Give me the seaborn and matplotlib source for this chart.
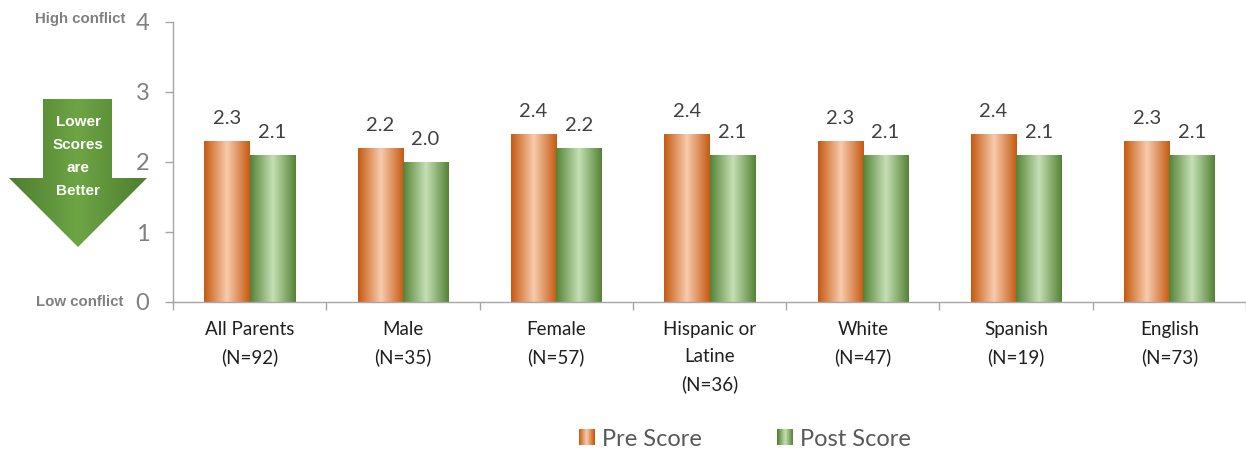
import numpy as np
import pandas as pd
import matplotlib
matplotlib.use("Agg")
import matplotlib.pyplot as plt
import seaborn as sns
from matplotlib.patches import Polygon, Rectangle, Patch
from matplotlib.legend_handler import HandlerBase
from matplotlib.colors import to_rgb

# ---- data ----
categories = ["All Parents\n(N=92)", "Male\n(N=35)", "Female\n(N=57)",
              "Hispanic or\nLatine\n(N=36)", "White\n(N=47)",
              "Spanish\n(N=19)", "English\n(N=73)"]
pre_scores = [2.3, 2.2, 2.4, 2.4, 2.3, 2.4, 2.3]
post_scores = [2.1, 2.0, 2.2, 2.1, 2.1, 2.1, 2.1]
series_names = ["Pre Score", "Post Score"]
y_ticks = [0, 1, 2, 3, 4]

# ---- styling ----
ORANGE_EDGE, ORANGE_MID = "#C55A11", "#F8CBAD"
GREEN_EDGE, GREEN_MID = "#548235", "#C5E0B4"
ARROW_EDGE, ARROW_MID = "#4E7D2F", "#6DA544"
AXIS_GREY = "#A6A6A6"
FONT = "Lato"
BOLD_FONT = ["Liberation Sans", "DejaVu Sans"]

sns.set_style("white")
plt.rcParams["font.family"] = [FONT, "DejaVu Sans"]


def gradient_row(edge, mid, n=256):
    """Horizontal gradient: dark at both edges, light in the middle."""
    t = np.linspace(0, 1, n)
    w = 1 - np.abs(2 * t - 1)
    e, m = np.array(to_rgb(edge)), np.array(to_rgb(mid))
    rgb = e[None, :] * (1 - w[:, None]) + m[None, :] * w[:, None]
    return rgb[None, :, :]


df = pd.DataFrame({
    "group": categories * 2,
    "score": pre_scores + post_scores,
    "series": [series_names[0]] * len(categories) + [series_names[1]] * len(categories),
})

W, H = 1246, 449
fig = plt.figure(figsize=(W / 100, H / 100), dpi=100)
ax = fig.add_axes([173 / W, 1 - 302 / H, (W - 173) / W, (302 - 22) / H])

sns.barplot(data=df, x="group", y="score", hue="series", order=categories,
            hue_order=series_names, palette=[ORANGE_EDGE, GREEN_EDGE],
            width=0.59, gap=0, errorbar=None, legend=False, ax=ax,
            saturation=1)

grads = [gradient_row(ORANGE_EDGE, ORANGE_MID), gradient_row(GREEN_EDGE, GREEN_MID)]
for container, grad in zip(ax.containers, grads):
    for bar in container:
        x0, w, h = bar.get_x(), bar.get_width(), bar.get_height()
        bar.set_edgecolor("none")
        im = ax.imshow(grad, extent=[x0, x0 + w, 0, h], aspect="auto",
                       interpolation="bilinear", zorder=bar.get_zorder() + 0.1)
        im.set_clip_path(bar)
        ax.annotate(f"{h:.1f}", (x0 + w / 2, h), xytext=(0, 10),
                    textcoords="offset points", ha="center", va="bottom",
                    fontsize=14.5, color="#404040")

ax.set_xlim(-0.5, len(categories) - 0.5)
ax.set_ylim(0, 4)
ax.set_yticks(y_ticks)
ax.set_xlabel("")
ax.set_ylabel("")

for side in ["top", "right"]:
    ax.spines[side].set_visible(False)
for side in ["left", "bottom"]:
    ax.spines[side].set_color(AXIS_GREY)
    ax.spines[side].set_linewidth(1.0)

ax.tick_params(axis="y", length=6, width=1.0, color=AXIS_GREY, direction="out",
               labelsize=17, labelcolor="#808080", pad=11, left=True)
ax.set_xticks(np.arange(-0.5, len(categories), 1.0), minor=True)
ax.tick_params(axis="x", which="minor", length=6, width=1.0, color=AXIS_GREY,
               direction="out", bottom=True)
ax.tick_params(axis="x", which="major", length=0, labelsize=13.5,
               labelcolor="#1F1F1F", pad=14)
for lbl in ax.get_xticklabels():
    lbl.set_linespacing(1.68)
    lbl.set_verticalalignment("top")

# ---- overlay in pixel coordinates: side annotations and the arrow ----
ov = fig.add_axes([0, 0, 1, 1], facecolor="none")
ov.set_xlim(0, W)
ov.set_ylim(H, 0)
ov.axis("off")

ov.text(125, 19, "High conflict", ha="right", va="center", fontsize=10.8,
        fontweight="bold", color="#7F7F7F", family=BOLD_FONT)
ov.text(123, 302, "Low conflict", ha="right", va="center", fontsize=10.8,
        fontweight="bold", color="#7F7F7F", family=BOLD_FONT)

arrow_pts = [(43, 99), (112, 99), (112, 178), (147, 178), (78, 247),
             (9, 178), (43, 178)]
arrow = Polygon(arrow_pts, closed=True, facecolor="none", edgecolor="none")
ov.add_patch(arrow)
aim = ov.imshow(gradient_row(ARROW_EDGE, ARROW_MID), extent=[9, 147, 247, 99],
                aspect="auto", interpolation="bilinear")
aim.set_clip_path(arrow)
ov.set_xlim(0, W)
ov.set_ylim(H, 0)
for i, word in enumerate(["Lower", "Scores", "are", "Better"]):
    ov.text(78, 122 + 23 * i, word, ha="center", va="center", fontsize=11,
            fontweight="bold", color="white", family=BOLD_FONT)


# ---- legend with gradient swatches ----
class GradientHandler(HandlerBase):
    def __init__(self, edge, mid, n=24):
        super().__init__()
        self.edge, self.mid, self.n = edge, mid, n

    def create_artists(self, legend, orig_handle, xdescent, ydescent,
                       width, height, fontsize, trans):
        cols = gradient_row(self.edge, self.mid, self.n)[0]
        step = width / self.n
        arts = []
        for i, c in enumerate(cols):
            arts.append(Rectangle((-xdescent + i * step, -ydescent), step * 1.05,
                                  height, facecolor=c, edgecolor="none",
                                  transform=trans))
        return arts


h_pre, h_post = Patch(), Patch()
fig.legend([h_pre, h_post], series_names,
           handler_map={h_pre: GradientHandler(ORANGE_EDGE, ORANGE_MID),
                        h_post: GradientHandler(GREEN_EDGE, GREEN_MID)},
           loc="center", bbox_to_anchor=(745 / W, 1 - 439 / H), ncol=2,
           frameon=False, fontsize=17, labelcolor="#595959",
           handlelength=0.68, handleheight=0.68, handletextpad=0.3,
           columnspacing=3.2, borderaxespad=0, borderpad=0)

fig.savefig("out.png", dpi=100)
